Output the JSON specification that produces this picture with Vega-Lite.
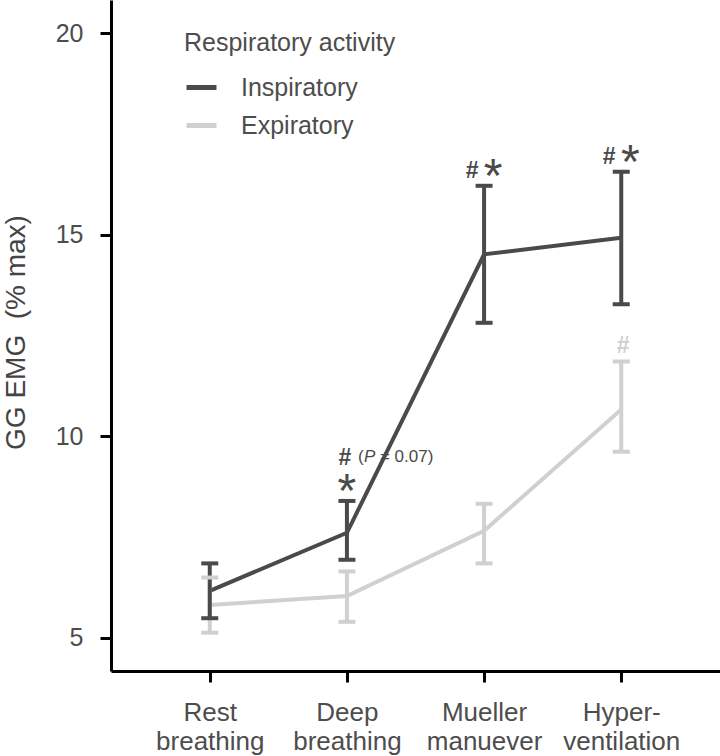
{
  "$schema": "https://vega.github.io/schema/vega-lite/v6.json",
  "width": 609,
  "height": 671,
  "autosize": {"type": "none"},
  "padding": {"left": 111, "top": 0, "right": 0, "bottom": 85},
  "background": "white",
  "config": {
    "view": {"stroke": null},
    "font": "Liberation Sans",
    "legend": {"symbolType": "stroke"}
  },
  "data": {
    "values": [
      {"phase": "Rest breathing", "activity": "Expiratory", "mean": 5.82, "lower": 5.13, "upper": 6.50, "hash": false, "star": false},
      {"phase": "Deep breathing", "activity": "Expiratory", "mean": 6.04, "lower": 5.40, "upper": 6.65, "hash": false, "star": false},
      {"phase": "Mueller manuever", "activity": "Expiratory", "mean": 7.66, "lower": 6.85, "upper": 8.33, "hash": false, "star": false},
      {"phase": "Hyper-ventilation", "activity": "Expiratory", "mean": 10.67, "lower": 9.62, "upper": 11.86, "hash": true, "star": false},
      {"phase": "Rest breathing", "activity": "Inspiratory", "mean": 6.17, "lower": 5.49, "upper": 6.85, "hash": false, "star": false},
      {"phase": "Deep breathing", "activity": "Inspiratory", "mean": 7.61, "lower": 6.94, "upper": 8.40, "hash": true, "star": true},
      {"phase": "Mueller manuever", "activity": "Inspiratory", "mean": 14.52, "lower": 12.82, "upper": 16.22, "hash": true, "star": true},
      {"phase": "Hyper-ventilation", "activity": "Inspiratory", "mean": 14.93, "lower": 13.28, "upper": 16.57, "hash": true, "star": true}
    ]
  },
  "encoding": {
    "x": {
      "field": "phase",
      "type": "nominal",
      "sort": ["Rest breathing", "Deep breathing", "Mueller manuever", "Hyper-ventilation"],
      "scale": {"type": "point", "padding": 0.72},
      "axis": {
        "title": null,
        "labelAngle": 0,
        "labelExpr": "datum.label == 'Hyper-ventilation' ? ['Hyper-', 'ventilation'] : split(datum.label, ' ')",
        "labelFontSize": 26,
        "labelColor": "#4d4d4d",
        "labelLineHeight": 29,
        "labelPadding": 17,
        "tickSize": 11,
        "tickWidth": 3,
        "tickColor": "black",
        "domainColor": "black",
        "domainWidth": 3,
        "grid": false
      }
    },
    "y": {
      "type": "quantitative",
      "scale": {"domain": [4.18, 20.83], "nice": false, "zero": false},
      "axis": {
        "title": "GG EMG\u00a0 (% max)",
        "values": [5, 10, 15, 20],
        "labelFontSize": 25,
        "labelColor": "#4d4d4d",
        "labelPadding": 17,
        "tickSize": 11,
        "tickWidth": 3,
        "tickColor": "black",
        "domainColor": "black",
        "domainWidth": 3,
        "grid": false,
        "titleFontSize": 28,
        "titleFontWeight": "normal",
        "titleColor": "#444444",
        "titleAngle": -90,
        "titleAlign": "center",
        "titleBaseline": "alphabetic",
        "titleX": -87,
        "titleY": 332
      }
    }
  },
  "layer": [
    {
      "transform": [{"filter": "datum.activity == 'Inspiratory' && datum.hash && datum.phase != 'Deep breathing'"}],
      "mark": {"type": "text", "text": "#", "fontSize": 23, "fontWeight": "bold", "color": "#4a4a4a", "baseline": "alphabetic", "dx": -12, "dy": -8},
      "encoding": {"y": {"field": "upper", "type": "quantitative"}}
    },
    {
      "transform": [{"filter": "datum.activity == 'Inspiratory' && datum.star && datum.phase != 'Deep breathing'"}],
      "mark": {"type": "text", "text": "*", "fontSize": 48, "color": "#4a4a4a", "baseline": "alphabetic", "dx": 9, "dy": 6},
      "encoding": {"y": {"field": "upper", "type": "quantitative"}}
    },
    {
      "transform": [{"filter": "datum.activity == 'Inspiratory' && datum.star && datum.phase == 'Deep breathing'"}],
      "mark": {"type": "text", "text": "*", "fontSize": 48, "color": "#4a4a4a", "baseline": "alphabetic", "dx": 0, "dy": 6},
      "encoding": {"y": {"field": "upper", "type": "quantitative"}}
    },
    {
      "transform": [{"filter": "datum.activity == 'Inspiratory' && datum.hash && datum.phase == 'Deep breathing'"}],
      "mark": {"type": "text", "text": "#", "fontSize": 23, "fontWeight": "bold", "color": "#4a4a4a", "baseline": "alphabetic", "dx": -2, "dy": -36},
      "encoding": {"y": {"field": "upper", "type": "quantitative"}}
    },
    {
      "transform": [{"filter": "datum.activity == 'Inspiratory' && datum.hash && datum.phase == 'Deep breathing'"}],
      "mark": {"type": "text", "text": "(", "fontSize": 17, "color": "#4a4a4a", "align": "left", "baseline": "alphabetic", "dx": 11, "dy": -39},
      "encoding": {"y": {"field": "upper", "type": "quantitative"}}
    },
    {
      "transform": [{"filter": "datum.activity == 'Inspiratory' && datum.hash && datum.phase == 'Deep breathing'"}],
      "mark": {"type": "text", "text": "P", "fontSize": 17, "fontStyle": "italic", "color": "#4a4a4a", "align": "left", "baseline": "alphabetic", "dx": 17, "dy": -39},
      "encoding": {"y": {"field": "upper", "type": "quantitative"}}
    },
    {
      "transform": [{"filter": "datum.activity == 'Inspiratory' && datum.hash && datum.phase == 'Deep breathing'"}],
      "mark": {"type": "text", "text": "= 0.07)", "fontSize": 17, "color": "#4a4a4a", "align": "left", "baseline": "alphabetic", "dx": 33, "dy": -39},
      "encoding": {"y": {"field": "upper", "type": "quantitative"}}
    },
    {
      "transform": [{"filter": "datum.activity == 'Expiratory' && datum.hash"}],
      "mark": {"type": "text", "text": "#", "fontSize": 23, "fontWeight": "bold", "color": "#d0d0d0", "baseline": "alphabetic", "dx": 2, "dy": -8},
      "encoding": {"y": {"field": "upper", "type": "quantitative"}}
    },
    {
      "mark": {"type": "line", "strokeWidth": 4},
      "encoding": {
        "y": {"field": "mean", "type": "quantitative"},
        "color": {
          "field": "activity",
          "type": "nominal",
          "scale": {"domain": ["Inspiratory", "Expiratory"], "range": ["#4a4a4a", "#d0d0d0"]},
          "legend": {
            "title": "Respiratory activity",
            "orient": "none",
            "legendX": 73,
            "legendY": 31,
            "titleFontSize": 25,
            "titleFontWeight": "normal",
            "titleColor": "#4d4d4d",
            "titlePadding": 14,
            "titleLimit": 500,
            "labelFontSize": 25,
            "labelColor": "#4d4d4d",
            "labelLimit": 500,
            "labelOffset": 22,
            "symbolSize": 900,
            "symbolStrokeWidth": 5,
            "symbolOpacity": 1,
            "symbolType": "stroke",
            "rowPadding": 7
          }
        }
      }
    },
    {
      "mark": {"type": "rule", "strokeWidth": 4, "opacity": 1},
      "encoding": {
        "y": {"field": "lower", "type": "quantitative"},
        "y2": {"field": "upper"},
        "color": {"field": "activity", "type": "nominal"}
      }
    },
    {
      "mark": {"type": "tick", "size": 17, "thickness": 4, "opacity": 1},
      "encoding": {
        "y": {"field": "lower", "type": "quantitative"},
        "color": {"field": "activity", "type": "nominal"}
      }
    },
    {
      "mark": {"type": "tick", "size": 17, "thickness": 4, "opacity": 1},
      "encoding": {
        "y": {"field": "upper", "type": "quantitative"},
        "color": {"field": "activity", "type": "nominal"}
      }
    }
  ]
}
